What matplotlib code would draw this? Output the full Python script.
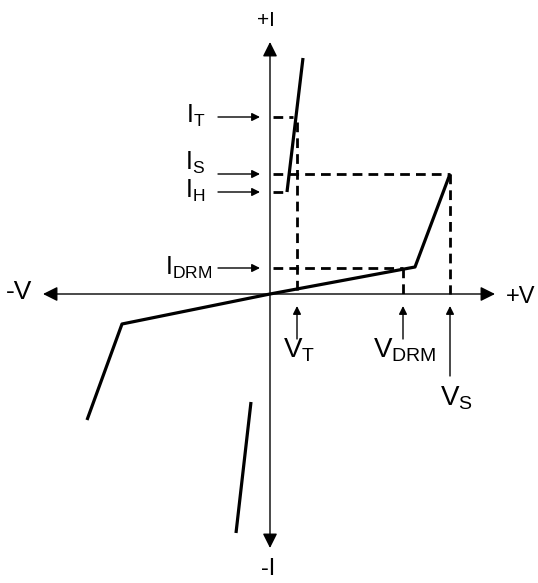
import matplotlib
matplotlib.use("Agg")
import matplotlib.pyplot as plt

plt.rcParams['font.family'] = ['Liberation Sans', 'DejaVu Sans']
plt.rcParams['mathtext.fontset'] = 'custom'
plt.rcParams['mathtext.rm'] = 'Liberation Sans'

# Diagram coordinates: origin at axis crossing, +V right, +I up
fwd_block_v = [0, 145, 180]          # off-state forward curve (origin -> knee -> V_S)
fwd_block_i = [0, 27, 120]
on_state_v = [17, 33]                # forward on-state line
on_state_i = [102, 236]
rev_block_v = [0, -148, -183]        # reverse blocking curve
rev_block_i = [0, -30, -126]
rev_on_v = [-19, -34]                # reverse on-state line
rev_on_i = [-108, -239]

V_T, V_DRM, V_S = 27, 133, 180
I_T, I_S, I_H, I_DRM = 177, 120, 102, 26

axis_v = (-227, 225)
axis_i = (-254, 252)

fig = plt.figure(figsize=(5.38, 5.83), dpi=100)
ax = fig.add_axes([0, 0, 1, 1])
ax.set_xlim(-270, 268)
ax.set_ylim(-289, 294)
ax.axis('off')

# axes
arr = dict(arrowstyle='-|>', color='black', lw=1.0, mutation_scale=22,
           shrinkA=0, shrinkB=0)
ax.annotate('', xy=(axis_v[1], 0), xytext=(0, 0), arrowprops=arr)
ax.annotate('', xy=(axis_v[0], 0), xytext=(0, 0), arrowprops=arr)
ax.annotate('', xy=(0, axis_i[1]), xytext=(0, 0), arrowprops=arr)
ax.annotate('', xy=(0, axis_i[0]), xytext=(0, 0), arrowprops=arr)

ax.text(236, -3, '+V', fontsize=17, ha='left', va='center')
ax.text(-251, 2, '-V', fontsize=19, ha='center', va='center')
ax.text(-4, 274, '+I', fontsize=15, ha='center', va='center')
ax.text(-2, -275, '-I', fontsize=17, ha='center', va='center')

# curves
lw = 2.3
ax.plot(fwd_block_v, fwd_block_i, color='black', lw=lw, solid_capstyle='butt')
ax.plot(on_state_v, on_state_i, color='black', lw=lw, solid_capstyle='butt')
ax.plot(rev_block_v, rev_block_i, color='black', lw=lw, solid_capstyle='butt')
ax.plot(rev_on_v, rev_on_i, color='black', lw=lw, solid_capstyle='butt')

# dashed reference lines
dk = dict(color='black', lw=2.0, linestyle=(0, (3.5, 2.2)))
ax.plot([3, 23], [I_T, I_T], **dk)
ax.plot([V_T, V_T], [I_T - 5, 0], **dk)
ax.plot([3, V_S], [I_S, I_S], **dk)
ax.plot([V_S, V_S], [I_S, 0], **dk)
ax.plot([3, 14], [I_H, I_H], **dk)
ax.plot([3, V_DRM], [I_DRM, I_DRM], **dk)
ax.plot([V_DRM, V_DRM], [I_DRM, 0], **dk)

# label arrows
la = dict(arrowstyle='-|>', color='black', lw=1.0, mutation_scale=12,
          shrinkA=0, shrinkB=0)
fs_i = 18
# (value, subscript, arrow start, text right edge, text baseline)
for iv, name, x0, tx, by in [(I_T, 'T', -52, -65, 171), (I_S, 'S', -52, -65, 124),
                             (I_H, 'H', -52, -65, 96), (I_DRM, 'DRM', -52, -58, 19)]:
    ax.annotate('', xy=(-10, iv), xytext=(x0, iv), arrowprops=la)
    ax.text(tx, by, r'$\mathregular{I_{%s}}$' % name, fontsize=fs_i,
            ha='right', va='baseline')

fs_v = 20
# (value, subscript, arrow start, text left edge, text baseline)
for vv, name, y0, tx, by in [(V_T, 'T', -45, 13, -64), (V_DRM, 'DRM', -45, 103, -64),
                             (V_S, 'S', -82, 170, -111)]:
    ax.annotate('', xy=(vv, -12), xytext=(vv, y0), arrowprops=la)
    ax.text(tx, by, r'$\mathregular{V_{%s}}$' % name, fontsize=fs_v,
            ha='left', va='baseline')

fig.savefig('out.png', dpi=100)
